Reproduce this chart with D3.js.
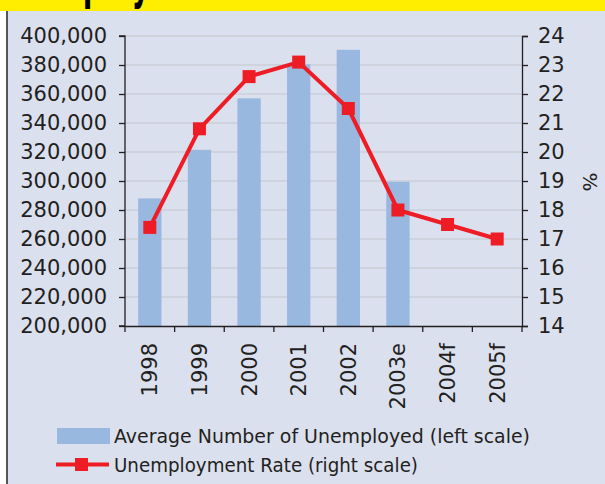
<!DOCTYPE html>
<html>
<head>
<meta charset="utf-8">
<script src="https://cdn.jsdelivr.net/npm/d3@7"></script>
<style>
  body { margin: 0; background: #fff; }
  text { font-family: "DejaVu Sans", sans-serif; fill: #231f20; }
</style>
</head>
<body>
<div id="chart"></div>
<script>
const years = ["1998", "1999", "2000", "2001", "2002", "2003e", "2004f", "2005f"];
const unemployed = [288000, 321500, 357000, 380500, 390500, 299500, null, null];
const rate = [17.4, 20.8, 22.6, 23.1, 21.5, 18.0, 17.5, 17.0];
const leftTicks = [200000, 220000, 240000, 260000, 280000, 300000, 320000, 340000, 360000, 380000, 400000];
const rightTicks = [14, 15, 16, 17, 18, 19, 20, 21, 22, 23, 24];
const legendLabels = ["Average Number of Unemployed (left scale)", "Unemployment Rate (right scale)"];

const W = 605, H = 484;
const margin = { top: 36, right: 83, bottom: 158, left: 125 };
const width = W - margin.left - margin.right;
const height = H - margin.top - margin.bottom;

const svg = d3.select("#chart").append("svg")
  .attr("width", W).attr("height", H);

// panel + banner (title is cut off at the top, only descenders show)
svg.append("rect").attr("x", 7).attr("y", 11).attr("width", W - 7).attr("height", H - 11).attr("fill", "#dbe0ee");
svg.append("rect").attr("x", 6).attr("y", 11).attr("width", 2).attr("height", H - 11).attr("fill", "#555");
svg.append("rect").attr("x", 0).attr("y", 0).attr("width", W).attr("height", 11).attr("fill", "#ffee00");
svg.append("clipPath").attr("id", "banner").append("rect").attr("width", W).attr("height", 11);
svg.append("g").attr("clip-path", "url(#banner)")
  .append("text")
  .attr("transform", "translate(-8,-3) scale(0.5,1)")
  .style("font-size", "56px").style("font-weight", "bold").style("fill", "#000")
  .text("Unemployment");

const g = svg.append("g").attr("transform", "translate(" + margin.left + "," + margin.top + ")");

const x = d3.scaleBand().domain(years).range([0, width]).paddingInner(0.53).paddingOuter(0.265);
const xTicks = d3.scaleBand().domain(years).range([0, width]);
const yL = d3.scaleLinear().domain([200000, 400000]).range([height, 0]);
const yR = d3.scaleLinear().domain([14, 24]).range([height, 0]);

// grid
g.append("g").selectAll("line").data(leftTicks.slice(1)).join("line")
  .attr("x1", 0).attr("x2", width)
  .attr("y1", d => yL(d)).attr("y2", d => yL(d))
  .attr("stroke", "#c4c6cc").attr("stroke-width", 1.2);

// bars
g.selectAll(".bar").data(years.map((y, i) => ({ y, v: unemployed[i] })).filter(d => d.v != null))
  .join("rect")
  .attr("x", d => x(d.y)).attr("width", x.bandwidth())
  .attr("y", d => yL(d.v)).attr("height", d => height - yL(d.v))
  .attr("fill", "#98b8e0");

// axes
const fmt = d3.format(",");
const axL = g.append("g")
  .call(d3.axisLeft(yL).tickValues(leftTicks).tickFormat(fmt).tickSize(6).tickPadding(12));
const axR = g.append("g").attr("transform", "translate(" + width + ",0)")
  .call(d3.axisRight(yR).tickValues(rightTicks).tickSize(6).tickPadding(10));
const axB = g.append("g").attr("transform", "translate(0," + height + ")")
  .call(d3.axisBottom(xTicks).tickValues([]).tickSize(0));
// bottom tick marks at band edges
g.append("g").selectAll("line").data(years.concat(["end"])).join("line")
  .attr("x1", (d, i) => i * xTicks.step()).attr("x2", (d, i) => i * xTicks.step())
  .attr("y1", height).attr("y2", height + 6)
  .attr("stroke", "#231f20").attr("stroke-width", 1.3);
g.selectAll(".xl").data(years).join("text")
  .attr("transform", d => "translate(" + (xTicks(d) + xTicks.bandwidth() / 2 + 7.5) + "," + (height + 17) + ") rotate(-90)")
  .attr("text-anchor", "end")
  .style("font-size", "21px")
  .text(d => d);

[axL, axR, axB].forEach(a => {
  a.selectAll(".domain").attr("stroke", "#231f20").attr("stroke-width", 1.3);
  a.selectAll(".tick line").attr("stroke", "#231f20").attr("stroke-width", 1.3);
  a.selectAll(".tick text").style("font-size", "21px").attr("fill", "#231f20");
});
axL.select(".domain").attr("d", "M-6,0H0V" + height + "H-6");

svg.append("text")
  .attr("transform", "translate(583,182) rotate(90)")
  .attr("text-anchor", "middle")
  .style("font-size", "20px")
  .text("%");

// line
const line = d3.line().x((d, i) => xTicks(years[i]) + xTicks.bandwidth() / 2).y(d => yR(d));
g.append("path").datum(rate).attr("d", line)
  .attr("fill", "none").attr("stroke", "#ee1c25").attr("stroke-width", 4).attr("stroke-linejoin", "round");
g.selectAll(".mk").data(rate).join("rect")
  .attr("x", (d, i) => xTicks(years[i]) + xTicks.bandwidth() / 2 - 6.5)
  .attr("y", d => yR(d) - 6.5)
  .attr("width", 13).attr("height", 13).attr("fill", "#ee1c25");

// legend
const lg = svg.append("g");
lg.append("rect").attr("x", 57).attr("y", 428).attr("width", 53).attr("height", 16).attr("fill", "#98b8e0");
lg.append("text").attr("x", 114).attr("y", 443).style("font-size", "20px")
  .attr("textLength", 416).attr("lengthAdjust", "spacingAndGlyphs").text(legendLabels[0]);
lg.append("line").attr("x1", 56).attr("x2", 109).attr("y1", 464.5).attr("y2", 464.5)
  .attr("stroke", "#ee1c25").attr("stroke-width", 4);
lg.append("rect").attr("x", 75).attr("y", 458).attr("width", 13).attr("height", 13).attr("fill", "#ee1c25");
lg.append("text").attr("x", 114).attr("y", 472).style("font-size", "20px")
  .attr("textLength", 304).attr("lengthAdjust", "spacingAndGlyphs").text(legendLabels[1]);
</script>
</body>
</html>
